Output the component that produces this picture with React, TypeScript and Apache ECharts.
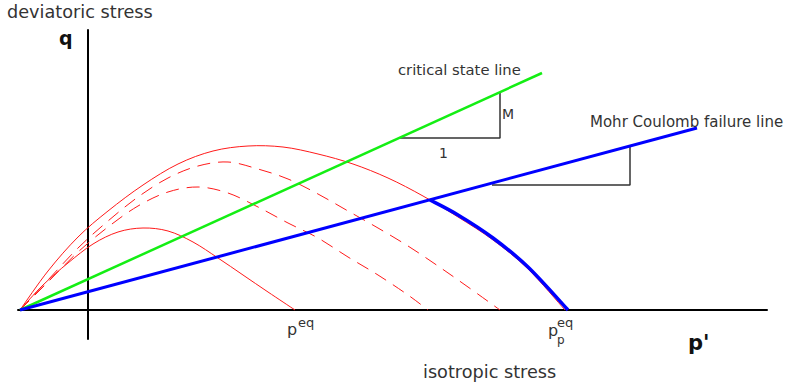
import { useEffect, useRef } from "react";
import * as echarts from "echarts";

// Stress paths in (p', q) space
const pRange = [-70, 679];
const qRange = [-29, 280];

const criticalStateLine = [[-68, 0], [454, 237]];
const mohrCoulombLine = [[-68, 0], [609, 182]];

const yieldSmall = [
  [-68, 0], [-45, 25], [-20, 47], [5, 66], [30, 78], [55, 82], [80, 79],
  [105, 68], [130, 52], [155, 35], [180, 18], [207, 0],
];

const yieldLarge = [
  [-68, 0], [-40, 39], [-10, 73], [20, 99], [55, 125], [90, 146], [125, 159],
  [160, 164], [195, 163], [230, 156], [265, 146], [300, 132], [335, 114],
  [370, 93], [405, 70], [440, 41], [477, 0],
];

const yieldDashedOuter = [
  [-68, 0], [-40, 30], [-10, 62], [20, 89], [50, 113], [80, 132], [110, 144],
  [140, 148], [170, 141], [200, 131], [230, 116], [260, 99], [290, 82],
  [320, 64], [350, 44], [380, 23], [412, 0],
];

const yieldDashedInner = [
  [-68, 0], [-40, 28], [-10, 58], [20, 83], [50, 104], [80, 118], [110, 123],
  [140, 117], [170, 103], [200, 87], [230, 72], [260, 53], [290, 35],
  [320, 15], [340, 0],
];

const failureCap = [[342, 110], [370, 95], [405, 72], [440, 43], [480, 0]];

const cslSlopeTriangle = [[312, 172], [412, 172], [412, 218]];
const mcSlopeTriangle = [[404, 125], [542, 125], [542, 163]];

const FONT = "'DejaVu Sans', Verdana, sans-serif";

// Catmull-Rom curve through a list of pixel points, drawn as one path
echarts.graphic.registerShape(
  "splineCurve",
  echarts.graphic.extendShape({
    shape: { points: [] as number[][] },
    buildPath(ctx: any, shape: any) {
      const pts = shape.points as number[][];
      if (!pts || pts.length < 2) return;
      ctx.moveTo(pts[0][0], pts[0][1]);
      for (let i = 0; i < pts.length - 1; i++) {
        const p0 = pts[i - 1] || pts[i];
        const p1 = pts[i];
        const p2 = pts[i + 1];
        const p3 = pts[i + 2] || p2;
        ctx.bezierCurveTo(
          p1[0] + (p2[0] - p0[0]) / 6,
          p1[1] + (p2[1] - p0[1]) / 6,
          p2[0] - (p3[0] - p1[0]) / 6,
          p2[1] - (p3[1] - p1[1]) / 6,
          p2[0],
          p2[1]
        );
      }
    },
  })
);

function curve(data: number[][], color: string, width: number, dash: number[] | null = null, z = 2) {
  return {
    type: "custom",
    coordinateSystem: "cartesian2d",
    data,
    encode: { x: 0, y: 1 },
    silent: true,
    z,
    renderItem: (params: any, api: any) => {
      if (params.dataIndex !== 0) return null;
      return {
        type: "splineCurve",
        shape: { points: data.map((pt) => api.coord(pt)) },
        style: {
          stroke: color,
          lineWidth: width,
          lineDash: dash,
          fill: "none",
        },
      };
    },
  };
}

function line(data: number[][], color: string, width: number, z = 2) {
  return {
    type: "line",
    data,
    showSymbol: false,
    symbol: "none",
    silent: true,
    z,
    lineStyle: { color, width },
  };
}

function label(
  text: string,
  x: number,
  baseline: number,
  size: number,
  opts: { bold?: boolean; color?: string; scaleX?: number } = {}
) {
  return {
    type: "text",
    x,
    y: baseline - 0.346 * size,
    scaleX: opts.scaleX ?? 1,
    silent: true,
    z: 10,
    style: {
      text,
      fontSize: size,
      fontFamily: FONT,
      fontWeight: opts.bold ? "bold" : "normal",
      fill: opts.color ?? "#333",
      align: "left",
      verticalAlign: "middle",
      textAlign: "left",
      textVerticalAlign: "middle",
    },
  };
}

export default function App() {
  const ref = useRef<HTMLDivElement>(null);

  useEffect(() => {
    if (!ref.current) return;
    const chart = echarts.init(ref.current, undefined, { renderer: "svg" });

    const hiddenAxis = {
      type: "value",
      axisTick: { show: false },
      axisLabel: { show: false },
      splitLine: { show: false },
      axisLine: { show: true, onZero: true, lineStyle: { color: "#000", width: 2 } },
    };

    chart.setOption({
      animation: false,
      backgroundColor: "#fff",
      grid: { left: 18, right: 20, top: 30, bottom: 48, containLabel: false },
      xAxis: { ...hiddenAxis, min: pRange[0], max: pRange[1] },
      yAxis: { ...hiddenAxis, min: qRange[0], max: qRange[1] },
      series: [
        curve(yieldSmall, "#ff1a1a", 1),
        curve(yieldLarge, "#ff1a1a", 1),
        curve(yieldDashedOuter, "#ff1a1a", 1, [13, 8]),
        curve(yieldDashedInner, "#ff1a1a", 1, [13, 8]),
        line(cslSlopeTriangle, "#333", 1.5),
        line(mcSlopeTriangle, "#333", 1.5),
        line(criticalStateLine, "#14ee14", 2.5, 3),
        line(mohrCoulombLine, "#0000ff", 3, 4),
        curve(failureCap, "#0000ff", 3.5, null, 4),
      ],
      graphic: [
        label("deviatoric stress", 7, 18, 17, { scaleX: 1.04 }),
        label("q", 59, 45, 19, { bold: true, color: "#111" }),
        label("critical state line", 398, 75, 14, { scaleX: 1.055 }),
        label("M", 502, 119, 14),
        label("1", 439, 158, 14),
        label("Mohr Coulomb failure line", 590, 127, 15),
        label("p", 287, 335, 16),
        label("eq", 298, 327, 13),
        label("p", 548, 336, 16),
        label("p", 557, 344, 12),
        label("eq", 557, 327, 13),
        label("p'", 688, 350, 21, { bold: true, color: "#111" }),
        label("isotropic stress", 423, 378, 17, { scaleX: 1.04 }),
      ],
    });

    return () => chart.dispose();
  }, []);

  return (
    <div
      ref={ref}
      style={{ position: "fixed", left: 0, top: 0, width: 787, height: 387, background: "#fff" }}
    />
  );
}
